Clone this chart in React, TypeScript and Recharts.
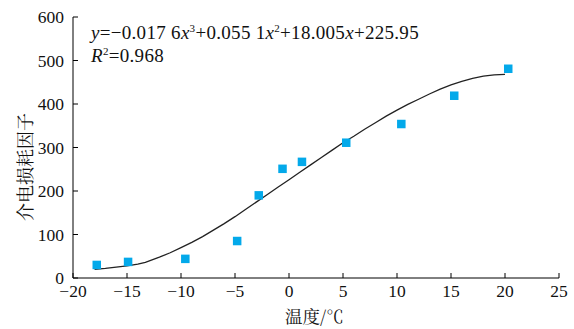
import React from 'react';
import { ScatterChart, Scatter, XAxis, YAxis } from 'recharts';

// measured points (temperature, loss factor)
const tempPoints = [-17.8, -14.9, -9.6, -4.8, -2.8, -0.6, 1.2, 5.3, 10.4, 15.3, 20.3];
const lossPoints = [30, 37, 44, 85, 190, 251, 267, 311, 354, 419, 481];

// fitted curve
const curveTemps = [-18, -17, -16, -15, -14, -13.3, -12, -11, -10, -9, -8, -7, -6, -5, -4, -3, -2, -1, 0, 1, 2, 3, 4, 5, 6, 7, 8, 9, 10, 11, 12, 13, 14, 15, 16, 17, 18, 19, 20];
const curveLoss = [20, 22, 25, 28, 32, 36, 48, 58, 70, 82, 95, 110, 125, 141, 158, 175, 192, 209, 226, 243, 260, 277, 294, 311, 326, 342, 357, 372, 386, 399, 411, 423, 434, 444, 452, 459, 464, 467, 468];

const xTicks = [-20, -15, -10, -5, 0, 5, 10, 15, 20, 25];
const yTicks = [0, 100, 200, 300, 400, 500, 600];

const scatterData = tempPoints.map((x, i) => ({ x, y: lossPoints[i] }));
const curveData = curveTemps.map((x, i) => ({ x, y: curveLoss[i] }));

const serif = '"Liberation Serif", "Times New Roman", serif';
const cjk = '"Noto Serif CJK SC", "Noto Sans CJK SC", serif';
const fmt = (v: number) => String(v).replace('-', '\u2212');

const Square = (props: any) => (
  <rect x={props.cx - 4.25} y={props.cy - 4.25} width={8.5} height={8.5} fill="#03a9ea" />
);

const sup = { fontSize: 11, verticalAlign: 'super', lineHeight: 0 } as const;

export default function App() {
  return (
    <div style={{ position: 'absolute', left: 0, top: 0, width: 574, height: 329, background: '#fff' }}>
      <ScatterChart width={574} height={329} margin={{ top: 17, right: 15, bottom: 0, left: 0 }}>
        <XAxis
          type="number"
          dataKey="x"
          domain={[-20, 25]}
          ticks={xTicks}
          tickFormatter={fmt}
          height={51}
          tickSize={-5}
          tickMargin={12}
          interval={0}
          axisLine={{ stroke: '#000', strokeWidth: 1 }}
          tickLine={{ stroke: '#000' }}
          tick={{ fill: '#111', fontSize: 17.5, fontFamily: serif }}
        />
        <YAxis
          type="number"
          dataKey="y"
          domain={[0, 600]}
          ticks={yTicks}
          width={73}
          tickSize={-5}
          tickMargin={14}
          interval={0}
          axisLine={{ stroke: '#000', strokeWidth: 1 }}
          tickLine={{ stroke: '#000' }}
          tick={{ fill: '#111', fontSize: 17.5, fontFamily: serif }}
        />
        <Scatter
          data={curveData}
          line={{ stroke: '#222', strokeWidth: 1.3 }}
          lineType="joint"
          shape={() => <g />}
          isAnimationActive={false}
        />
        <Scatter data={scatterData} shape={Square} isAnimationActive={false} />
      </ScatterChart>

      <div style={{ position: 'absolute', left: 91, top: 21, fontFamily: serif, fontSize: 19, letterSpacing: 0.3, color: '#111', lineHeight: '23px', whiteSpace: 'nowrap' }}>
        <div>
          <i>y</i>=−0.017 6<i>x</i><span style={sup}>3</span>+0.055 1<i>x</i><span style={sup}>2</span>+18.005<i>x</i>+225.95
        </div>
        <div>
          <i>R</i><span style={sup}>2</span>=0.968
        </div>
      </div>

      <div style={{ position: 'absolute', left: 285, top: 305, fontFamily: cjk, fontSize: 17.5, lineHeight: '21px', color: '#111', whiteSpace: 'nowrap' }}>
        温度/℃
      </div>

      <div
        style={{
          position: 'absolute',
          left: 23.5,
          top: 167,
          transform: 'translate(-50%, -50%) rotate(-90deg)',
          fontFamily: cjk,
          fontSize: 18,
          lineHeight: '22px',
          color: '#111',
          whiteSpace: 'nowrap',
        }}
      >
        介电损耗因子
      </div>
    </div>
  );
}
